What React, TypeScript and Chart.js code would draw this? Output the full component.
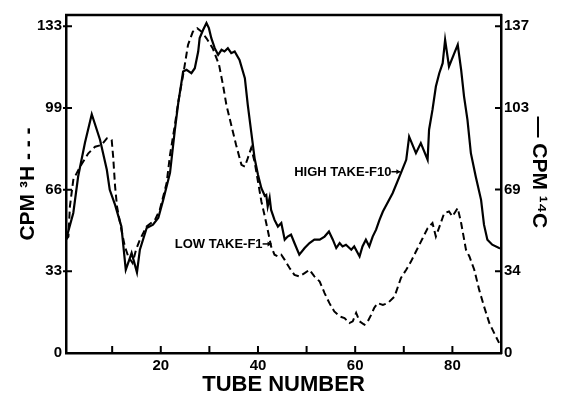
import React, { useEffect, useRef } from 'react';
import { Chart, registerables } from 'chart.js';

Chart.register(...registerables);

// ---- Data ----
// Solid line: CPM 14C (right axis)
const c14Tubes = [0.5, 2.0, 3.0, 4.4, 5.8, 7.5, 8.9, 9.5, 10.6, 11.9, 12.8, 14.0, 15.1, 15.7, 17.1, 18.4, 19.5, 20.5, 21.9, 22.9, 23.6, 24.6, 25.3, 26.3, 27.0, 27.7, 28.0, 28.7, 29.4, 29.9, 30.4, 31.1, 31.8, 32.5, 33.1, 33.8, 34.5, 35.2, 36.2, 37.3, 37.9, 38.6, 39.3, 40.0, 40.7, 41.4, 41.7, 42.0, 42.4, 42.7, 43.4, 44.1, 44.8, 45.5, 46.1, 46.8, 47.5, 48.5, 49.6, 50.6, 51.6, 52.7, 53.7, 54.6, 55.4, 56.1, 56.8, 57.4, 58.1, 59.2, 59.8, 60.9, 61.5, 62.2, 62.9, 63.6, 64.3, 65.0, 65.7, 67.7, 69.4, 70.5, 71.1, 72.5, 73.5, 74.9, 75.2, 75.9, 76.6, 77.3, 78.0, 78.5, 79.3, 80.4, 81.1, 81.8, 82.4, 83.1, 83.8, 84.8, 85.9, 86.5, 87.2, 88.2, 89.6, 90];
const c14Counts = [47.5, 58.7, 74.0, 88.1, 100.1, 89.4, 76.8, 68.4, 62.1, 53.0, 34.9, 41.9, 33.8, 43.3, 52.4, 53.8, 56.7, 64.2, 75.5, 93.5, 104.9, 118.0, 118.7, 117.3, 119.4, 126.4, 132.0, 135.4, 138.3, 136.2, 132.0, 127.8, 125.0, 127.1, 126.4, 127.8, 125.7, 126.4, 122.9, 115.2, 104.0, 92.8, 81.7, 74.7, 69.1, 65.9, 66.3, 61.4, 65.1, 60.0, 55.8, 53.0, 54.5, 47.5, 48.8, 49.6, 46.1, 41.2, 44.0, 46.1, 47.5, 47.5, 48.8, 50.9, 47.5, 44.0, 46.1, 44.7, 45.4, 43.3, 44.7, 40.5, 44.7, 47.5, 44.7, 48.8, 51.7, 55.8, 59.3, 67.0, 75.4, 81.0, 90.7, 83.8, 88.0, 81.0, 93.6, 101.9, 111.7, 117.3, 121.5, 131.3, 120.1, 125.7, 129.2, 118.7, 107.5, 97.7, 83.8, 74.0, 64.2, 53.8, 47.5, 45.4, 44.0, 43.8];

// Dashed line: CPM 3H (left axis)
const h3Tubes = [0.5, 1.0, 1.3, 2.0, 3.4, 5.1, 6.5, 7.8, 8.9, 9.9, 10.2, 10.6, 11.0, 11.9, 12.6, 13.3, 14.2, 14.9, 15.7, 17.1, 18.8, 19.8, 21.2, 21.9, 22.9, 23.6, 24.6, 25.6, 26.6, 27.5, 28.4, 29.4, 30.7, 32.0, 32.8, 33.5, 34.5, 35.5, 36.6, 37.3, 37.9, 38.6, 39.3, 40.0, 40.7, 41.4, 42.0, 42.7, 43.4, 44.1, 44.8, 45.5, 46.5, 47.5, 48.5, 49.6, 50.6, 51.6, 52.7, 53.7, 54.7, 55.7, 56.8, 57.8, 58.8, 59.5, 60.2, 60.9, 61.9, 62.6, 63.3, 63.9, 64.6, 65.7, 66.7, 68.1, 69.4, 70.5, 71.5, 72.5, 73.9, 74.9, 75.9, 76.6, 77.6, 78.3, 79.3, 80.0, 81.1, 81.8, 82.8, 83.5, 84.5, 85.5, 86.5, 87.6, 88.6, 89.6];
const h3Counts = [46.1, 47.4, 59.6, 70.5, 75.9, 81.3, 84.0, 84.7, 87.4, 86.7, 80.0, 67.8, 59.6, 50.1, 43.4, 39.3, 36.6, 42.0, 46.1, 51.5, 54.2, 58.3, 69.1, 80.6, 92.8, 102.3, 113.2, 125.4, 130.8, 132.2, 130.8, 128.1, 124.0, 117.2, 109.1, 101.0, 92.8, 84.7, 76.6, 75.9, 79.3, 83.4, 77.9, 69.8, 61.7, 55.6, 50.1, 43.4, 40.0, 39.3, 40.0, 37.9, 34.6, 31.8, 31.2, 32.5, 33.9, 31.2, 29.1, 24.4, 20.3, 16.9, 14.9, 14.2, 12.2, 12.9, 16.3, 12.9, 11.5, 12.9, 15.6, 18.3, 20.3, 19.6, 20.3, 23.0, 30.5, 33.9, 37.3, 41.3, 46.8, 50.8, 52.9, 47.4, 52.9, 56.9, 57.6, 55.6, 59.0, 52.9, 42.0, 39.3, 33.9, 25.8, 19.0, 12.2, 8.1, 4.1];

// Axis ticks
const xTickValues = [10, 20, 30, 40, 50, 60, 70, 80];
const xTickLabels = ['', '20', '', '40', '', '60', '', '80'];
const leftTickValues = [0, 33.25, 66.5, 99.75, 133];
const leftTickLabels = ['0', '33', '66', '99', '133'];
const rightTickValues = [0, 34.25, 68.5, 102.75, 137];
const rightTickLabels = ['0', '34', '69', '103', '137'];

// Annotation labels (arrow tip in data units)
const noteTexts = ['HIGH TAKE-F10', 'LOW TAKE-F1'];
const noteTubes = [69.3, 42.8];
const noteValues = [76, 44.4];
const noteAxes = ['yRight', 'yLeft'];

const FONT = '"Liberation Sans", Arial, Helvetica, sans-serif';

const framePlugin = {
  id: 'frameAndTicks',
  afterDatasetsDraw(chart: any) {
    const { ctx, chartArea, scales } = chart;
    const { left, right, top, bottom } = chartArea;
    ctx.save();
    ctx.strokeStyle = '#000';
    ctx.fillStyle = '#000';
    ctx.lineWidth = 2.5;
    ctx.beginPath();
    ctx.moveTo(left - 1, top);
    ctx.lineTo(right + 1, top);
    ctx.stroke();

    ctx.lineWidth = 2;
    ctx.beginPath();
    xTickValues.forEach((v) => {
      const x = scales.x.getPixelForValue(v);
      ctx.moveTo(x, bottom);
      ctx.lineTo(x, bottom - 7);
    });
    leftTickValues.slice(1).forEach((v) => {
      const y = scales.yLeft.getPixelForValue(v);
      ctx.moveTo(left - 3, y);
      ctx.lineTo(left + 6, y);
    });
    rightTickValues.slice(1).forEach((v) => {
      const y = scales.yRight.getPixelForValue(v);
      ctx.moveTo(right, y);
      ctx.lineTo(right - 6, y);
    });
    ctx.stroke();

    // annotations
    ctx.font = `bold 13px ${FONT}`;
    ctx.textAlign = 'right';
    ctx.textBaseline = 'middle';
    noteTexts.forEach((t, i) => {
      const tipX = scales.x.getPixelForValue(noteTubes[i]);
      const tipY = scales[noteAxes[i]].getPixelForValue(noteValues[i]);
      const startX = tipX - 9;
      ctx.fillText(t, startX, tipY + 0.5);
      ctx.lineWidth = 1.5;
      ctx.beginPath();
      ctx.moveTo(startX, tipY);
      ctx.lineTo(tipX, tipY);
      ctx.stroke();
      ctx.beginPath();
      ctx.moveTo(tipX, tipY);
      ctx.lineTo(tipX - 4, tipY - 2.5);
      ctx.lineTo(tipX - 4, tipY + 2.5);
      ctx.closePath();
      ctx.fill();
    });
    ctx.restore();
  },
};

export default function App() {
  const canvasRef = useRef<HTMLCanvasElement | null>(null);

  useEffect(() => {
    const canvas = canvasRef.current;
    if (!canvas) return;
    const tickFont = { family: FONT, size: 15, weight: 'bold' as const };
    const chart = new Chart(canvas, {
      type: 'line',
      data: {
        datasets: [
          {
            label: 'CPM 14C',
            data: c14Tubes.map((t, i) => ({ x: t, y: c14Counts[i] })),
            yAxisID: 'yRight',
            borderColor: '#000',
            borderWidth: 2.2,
            pointRadius: 0,
            tension: 0,
            fill: false,
          },
          {
            label: 'CPM 3H',
            data: h3Tubes.map((t, i) => ({ x: t, y: h3Counts[i] })),
            yAxisID: 'yLeft',
            borderColor: '#000',
            borderWidth: 2,
            borderDash: [7, 4],
            pointRadius: 0,
            tension: 0,
            fill: false,
          },
        ],
      },
      options: {
        responsive: false,
        animation: false,
        devicePixelRatio: 1,
        layout: { padding: { top: 15, left: 0, right: 0, bottom: 0 } },
        plugins: { legend: { display: false }, tooltip: { enabled: false } },
        scales: {
          x: {
            type: 'linear',
            position: 'bottom',
            min: 0.5,
            max: 90,
            afterBuildTicks: (s: any) => {
              s.ticks = xTickValues.map((v) => ({ value: v }));
            },
            afterFit: (s: any) => {
              s.height = 49;
            },
            ticks: {
              autoSkip: false,
              maxRotation: 0,
              padding: 4,
              color: '#000',
              font: tickFont,
              callback: (_v: any, i: number) => xTickLabels[i],
            },
            grid: { display: false, drawTicks: false },
            border: { display: true, color: '#000', width: 2.5 },
            title: {
              display: true,
              text: 'TUBE NUMBER',
              color: '#000',
              font: { family: FONT, size: 22, weight: 'bold' },
              padding: { top: 0, bottom: 4 },
            },
          },
          yLeft: {
            type: 'linear',
            position: 'left',
            min: 0,
            max: 137.6,
            afterBuildTicks: (s: any) => {
              s.ticks = leftTickValues.map((v) => ({ value: v }));
            },
            afterFit: (s: any) => {
              s.width = 66;
            },
            ticks: {
              autoSkip: false,
              padding: 4,
              color: '#000',
              font: tickFont,
              callback: (_v: any, i: number) => leftTickLabels[i],
            },
            grid: { display: false, drawTicks: false },
            border: { display: true, color: '#000', width: 2.5 },
            title: {
              display: true,
              text: 'CPM ³H - - -',
              color: '#000',
              font: { family: FONT, size: 21, weight: 'bold' },
              padding: { top: 16, bottom: 0 },
            },
          },
          yRight: {
            type: 'linear',
            position: 'right',
            min: 0,
            max: 141.7,
            afterBuildTicks: (s: any) => {
              s.ticks = rightTickValues.map((v) => ({ value: v }));
            },
            afterFit: (s: any) => {
              s.width = 63;
            },
            ticks: {
              autoSkip: false,
              padding: 3,
              color: '#000',
              font: tickFont,
              callback: (_v: any, i: number) => rightTickLabels[i],
            },
            grid: { display: false, drawTicks: false },
            border: { display: true, color: '#000', width: 2.5 },
            title: {
              display: true,
              text: '— CPM ¹⁴C    ',
              color: '#000',
              font: { family: FONT, size: 21, weight: 'bold' },
              padding: { top: 13, bottom: 0 },
            },
          },
        },
      },
      plugins: [framePlugin],
    });
    return () => chart.destroy();
  }, []);

  return (
    <div style={{ position: 'fixed', left: 0, top: 0, width: 564, height: 402, background: '#fff' }}>
      <canvas ref={canvasRef} width={564} height={402} style={{ display: 'block', width: 564, height: 402 }} />
    </div>
  );
}
